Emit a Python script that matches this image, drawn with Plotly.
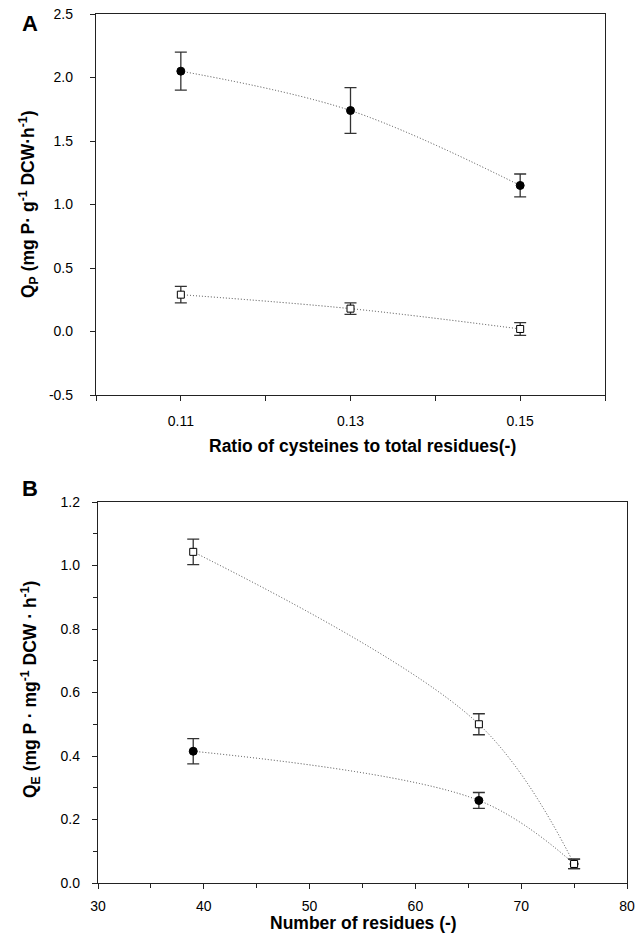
import plotly.graph_objects as go

# Panel A data
ratio = [0.11, 0.13, 0.15]
qp_filled = [2.05, 1.74, 1.15]
qp_filled_err = [0.15, 0.18, 0.09]
qp_open = [0.29, 0.18, 0.02]
qp_open_err = [0.065, 0.045, 0.05]

# Panel B data
residues = [39, 66, 75]
qe_open = [1.043, 0.50, 0.06]
qe_open_err = [0.04, 0.033, 0.015]
qe_filled = [0.415, 0.26, 0.06]
qe_filled_err = [0.04, 0.025, 0.015]

a_xticks = [0.11, 0.13, 0.15]
a_yticks = [-0.5, 0, 0.5, 1.0, 1.5, 2.0, 2.5]
b_xticks = [30, 40, 50, 60, 70, 80]
b_yticks = [0, 0.2, 0.4, 0.6, 0.8, 1.0, 1.2]

FONT = "Liberation Sans, Arial, sans-serif"
W, H = 644, 935
fig = go.Figure()


def add_series(x, y, err, filled, xa, ya):
    fig.add_trace(go.Scatter(x=x, y=y, mode="lines", xaxis=xa, yaxis=ya,
                             line=dict(shape="spline", dash="1px,2px", color="#444444", width=1),
                             hoverinfo="skip", showlegend=False))
    fig.add_trace(go.Scatter(
        x=x, y=y, mode="markers", xaxis=xa, yaxis=ya, showlegend=False,
        error_y=dict(type="data", array=err, visible=True, color="#333333", thickness=1.3, width=6),
        marker=dict(symbol="circle" if filled else "square",
                    size=8 if filled else 7,
                    color="black" if filled else "white",
                    line=dict(color="black", width=1))))


add_series(ratio, qp_open, qp_open_err, False, "x", "y")
add_series(ratio, qp_filled, qp_filled_err, True, "x", "y")
add_series(residues, qe_filled, qe_filled_err, True, "x2", "y2")
add_series(residues, qe_open, qe_open_err, False, "x2", "y2")

axis_common = dict(showline=True, linecolor="#222222", linewidth=1.3, mirror=True,
                   ticks="outside", ticklen=5, tickcolor="#222222", showgrid=False,
                   zeroline=False, automargin=False,
                   tickfont=dict(family=FONT, size=14, color="black"))

title_font = dict(family=FONT, size=17.5, color="black")

fig.update_layout(
    width=W, height=H, margin=dict(l=0, r=0, t=0, b=0),
    paper_bgcolor="white", plot_bgcolor="white",
    xaxis=dict(domain=[96 / W, 605 / W], range=[0.10, 0.16], anchor="y",
               tickvals=a_xticks, ticktext=["0.11", "0.13", "0.15"],
               minor=dict(tick0=0.10, dtick=0.01, ticks="outside", ticklen=5, tickcolor="#222222"),
               ticklabelstandoff=8, **axis_common),
    yaxis=dict(domain=[1 - 395 / H, 1 - 14 / H], range=[-0.5, 2.5], anchor="x",
               tickvals=a_yticks,
               ticktext=["-0.5", "0.0", "0.5", "1.0", "1.5", "2.0", "2.5"],
               ticklabelstandoff=14, **axis_common),
    xaxis2=dict(domain=[98 / W, 627 / W], range=[30, 80], anchor="y2",
                tickvals=b_xticks,
                minor=dict(dtick=5, ticks="outside", ticklen=4, tickcolor="#222222"),
                ticklabelstandoff=5, **axis_common),
    yaxis2=dict(domain=[1 - 883 / H, 1 - 502 / H], range=[0, 1.2], anchor="x2",
                tickvals=b_yticks,
                ticktext=["0.0", "0.2", "0.4", "0.6", "0.8", "1.0", "1.2"],
                minor=dict(dtick=0.1, ticks="outside", ticklen=4, tickcolor="#222222"),
                ticklabelstandoff=9, **axis_common),
    annotations=[
        dict(text="<b>A</b>", x=30 / W, y=1 - 23 / H, xref="paper", yref="paper",
             xanchor="center", yanchor="middle",
             showarrow=False, font=dict(family=FONT, size=22, color="black")),
        dict(text="<b>B</b>", x=30 / W, y=1 - 489 / H, xref="paper", yref="paper",
             xanchor="center", yanchor="middle",
             showarrow=False, font=dict(family=FONT, size=22, color="black")),
        dict(text="<b>Ratio of cysteines to total residues(-)</b>", x=362 / W, y=1 - 446 / H,
             xref="paper", yref="paper", xanchor="center", yanchor="middle",
             showarrow=False, font=title_font),
        dict(text="<b>Number of residues (-)</b>", x=363 / W, y=1 - 923 / H,
             xref="paper", yref="paper", xanchor="center", yanchor="middle",
             showarrow=False, font=title_font),
        dict(text="<b>Q<sub>P</sub> (mg P· g<sup>-1</sup> DCW·h<sup>-1</sup>)</b>",
             x=28 / W, y=1 - 205 / H, xref="paper", yref="paper",
             xanchor="center", yanchor="middle", textangle=-90,
             showarrow=False, font=title_font),
        dict(text="<b>Q<sub>E</sub> (mg P · mg<sup>-1</sup> DCW · h<sup>-1</sup>)</b>",
             x=30 / W, y=1 - 690 / H, xref="paper", yref="paper",
             xanchor="center", yanchor="middle", textangle=-90,
             showarrow=False, font=title_font),
    ],
)

fig.write_html("out.html")
